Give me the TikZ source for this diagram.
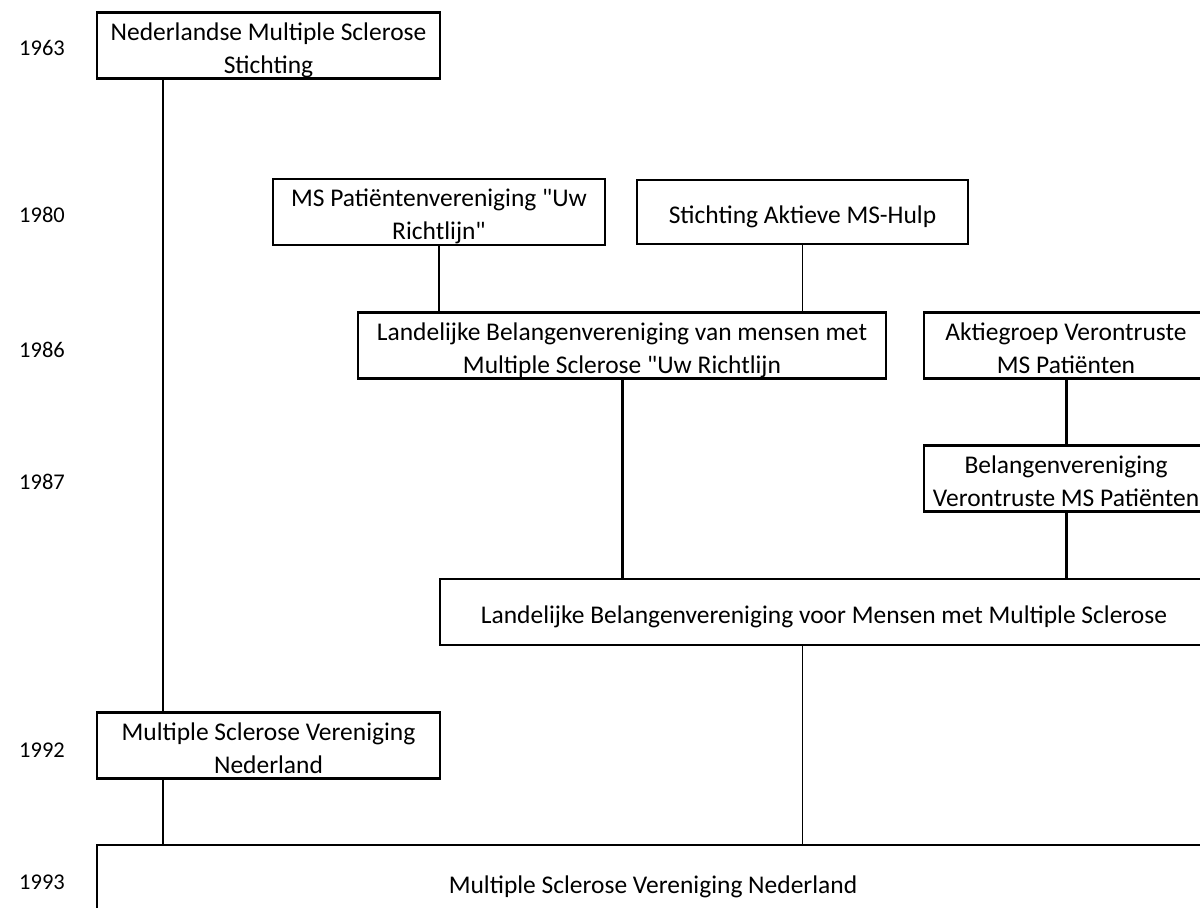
\documentclass[tikz,border=0pt]{standalone}
\usepackage{fontspec}
\setmainfont{Carlito}
% tekst iets lager in de doos
\newcommand{\tekst}[1]{\raisebox{-2.6pt}[\height][\depth]{\begin{tabular}{@{}c@{}}#1\end{tabular}}}
\newcommand{\aanh}{\textquotedbl}
\begin{document}
\begin{tikzpicture}[x=0.02cm, y=-0.02cm,
  doos/.style={draw, line width=1.3pt, align=center, inner sep=0pt,
    font=\fontsize{14.5}{18.8}\selectfont},
  jaar/.style={font=\fontsize{12.8}{15}\selectfont},
  dik/.style={line width=1.7pt},
  dun/.style={line width=0.6pt}]
\useasboundingbox (0,0) rectangle (1200,908);
\clip (0,0) rectangle (1200,908);
% jaartallen
\node[jaar] (j63) at (42,48) {1963};
\node[jaar] (j80) at (42,215) {1980};
\node[jaar] (j86) at (42,350) {1986};
\node[jaar] (j87) at (42,482) {1987};
\node[jaar] (j92) at (42,750) {1992};
\node[jaar] (j93) at (42,882) {1993};
% organisaties
\node[doos, minimum width=6.86cm, minimum height=1.3cm] (nmss) at (268.5,45.5)
  {\tekst{Nederlandse Multiple Sclerose\\Stichting}};
\node[doos, minimum width=6.64cm, minimum height=1.28cm] (pvu) at (439,212)
  {\tekst{MS Patiëntenvereniging \aanh Uw\\Richtlijn\aanh}};
\node[doos, minimum width=6.62cm, minimum height=1.28cm] (sam) at (802.5,212)
  {\tekst{Stichting Aktieve MS-Hulp}};
\node[doos, minimum width=10.56cm, minimum height=1.3cm] (lbu) at (622,345.5)
  {\tekst{Landelijke Belangenvereniging van mensen met\\Multiple Sclerose \aanh Uw Richtlijn}};
\node[doos, minimum width=5.68cm, minimum height=1.3cm] (avp) at (1066,345.5)
  {\tekst{Aktiegroep Verontruste\\MS Patiënten}};
\node[doos, minimum width=5.68cm, minimum height=1.3cm] (bvp) at (1066,478.5)
  {\tekst{Belangenvereniging\\Verontruste MS Patiënten}};
\node[doos, minimum width=15.36cm, minimum height=1.32cm] (lbm) at (824,612)
  {\tekst{Landelijke Belangenvereniging voor Mensen met Multiple Sclerose}};
\node[doos, minimum width=6.86cm, minimum height=1.3cm] (msvn92) at (268.5,745.5)
  {\tekst{Multiple Sclerose Vereniging\\Nederland}};
\node[doos, minimum width=22.24cm, minimum height=1.5cm] (msvn93) at (653,882.5)
  {\tekst{Multiple Sclerose Vereniging Nederland}};
% verbindingen
\coordinate (stam) at (163,0);
\draw[dik] (nmss.south -| stam) -- (msvn92.north -| stam);
\draw[dik] (msvn92.south -| stam) -- (msvn93.north -| stam);
\draw[dun] (pvu.south) -- (pvu.south |- lbu.north);
\draw[dun] (sam.south) -- (sam.south |- lbu.north);
\draw[dik] (lbu.south) -- (lbu.south |- lbm.north);
\draw[dik] (avp.south) -- (bvp.north);
\draw[dik] (bvp.south) -- (bvp.south |- lbm.north);
\draw[dun] (lbm.south -| sam) -- (msvn93.north -| sam);
\end{tikzpicture}
\end{document}
